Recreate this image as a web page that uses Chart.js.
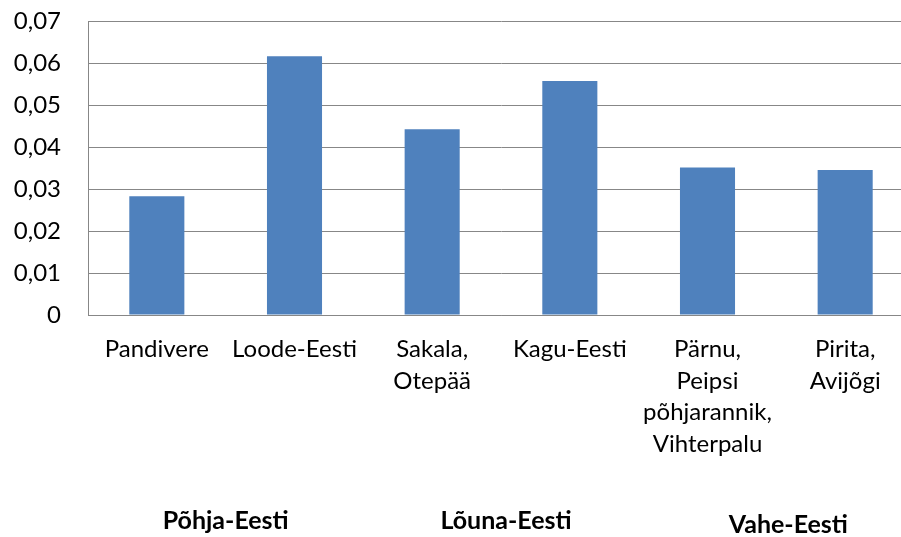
<!DOCTYPE html>
<html>
<head>
<meta charset="utf-8">
<script src="https://cdn.jsdelivr.net/npm/chart.js@4"></script>
<style>
html, body { margin: 0; padding: 0; overflow: hidden; background: #fff; }
canvas { display: block; }
</style>
</head>
<body>
<canvas id="chart" width="914" height="537"></canvas>
<script>
// data
const regions = [['Pandivere'], ['Loode-Eesti'], ['Sakala,', 'Otepää'], ['Kagu-Eesti'], ['Pärnu,', 'Peipsi', 'põhjarannik,', 'Vihterpalu'], ['Pirita,', 'Avijõgi']];
const values = [0.0283, 0.0616, 0.0442, 0.0557, 0.0351, 0.0345];
const groups = ['Põhja-Eesti', 'Lõuna-Eesti', 'Vahe-Eesti'];
const groupSpans = [[0, 1], [2, 3], [4, 5]];
const yTickLabels = ['0', '0,01', '0,02', '0,03', '0,04', '0,05', '0,06', '0,07'];

const FONT = 'Lato';
const gridGray = '#878787';

// group names under the category labels (text boxes in the original, slightly off-centre)
const groupNudge = [[0, 0], [5, 0], [12, 4]];
const groupLabels = {
  id: 'groupLabels',
  afterDraw(chart) {
    const ctx = chart.ctx;
    const xs = chart.scales.x;
    ctx.save();
    ctx.font = 'bold 25px ' + FONT;
    ctx.fillStyle = '#000';
    ctx.textAlign = 'center';
    ctx.textBaseline = 'middle';
    groups.forEach((g, i) => {
      const [a, b] = groupSpans[i];
      const cx = (xs.getPixelForValue(a) + xs.getPixelForValue(b)) / 2;
      ctx.fillText(g, cx + groupNudge[i][0], 521 + groupNudge[i][1]);
    });
    ctx.restore();
  }
};

const ctx = document.getElementById('chart').getContext('2d');
new Chart(ctx, {
  type: 'bar',
  data: {
    labels: regions,
    datasets: [{
      data: values,
      backgroundColor: '#4F81BD',
      borderWidth: 0,
      categoryPercentage: 1,
      barPercentage: 0.4
    }]
  },
  options: {
    responsive: false,
    animation: false,
    devicePixelRatio: 1,
    layout: { padding: { top: 21, left: 0, right: 0, bottom: 0 } },
    plugins: {
      legend: { display: false },
      tooltip: { enabled: false }
    },
    scales: {
      x: {
        grid: { display: false, drawTicks: false },
        border: { color: gridGray, width: 1 },
        ticks: {
          autoSkip: false,
          maxRotation: 0,
          padding: 19,
          color: '#000',
          font: { family: FONT, size: 24, lineHeight: 1.31 }
        },
        afterFit(scale) { scale.height = 222; }
      },
      y: {
        min: 0,
        max: 0.07,
        grid: { color: gridGray, lineWidth: 1, drawTicks: false },
        border: { color: gridGray, width: 1 },
        ticks: {
          stepSize: 0.01,
          padding: 27,
          color: '#000',
          font: { family: FONT, size: 24 },
          callback: (v, i) => yTickLabels[i]
        },
        afterFit(scale) {
          scale.width = 88;
          // tick padding would otherwise push the plot top down
          scale.paddingTop = 0;
          scale.paddingBottom = 0;
        }
      }
    }
  },
  plugins: [groupLabels]
});
</script>
</body>
</html>
